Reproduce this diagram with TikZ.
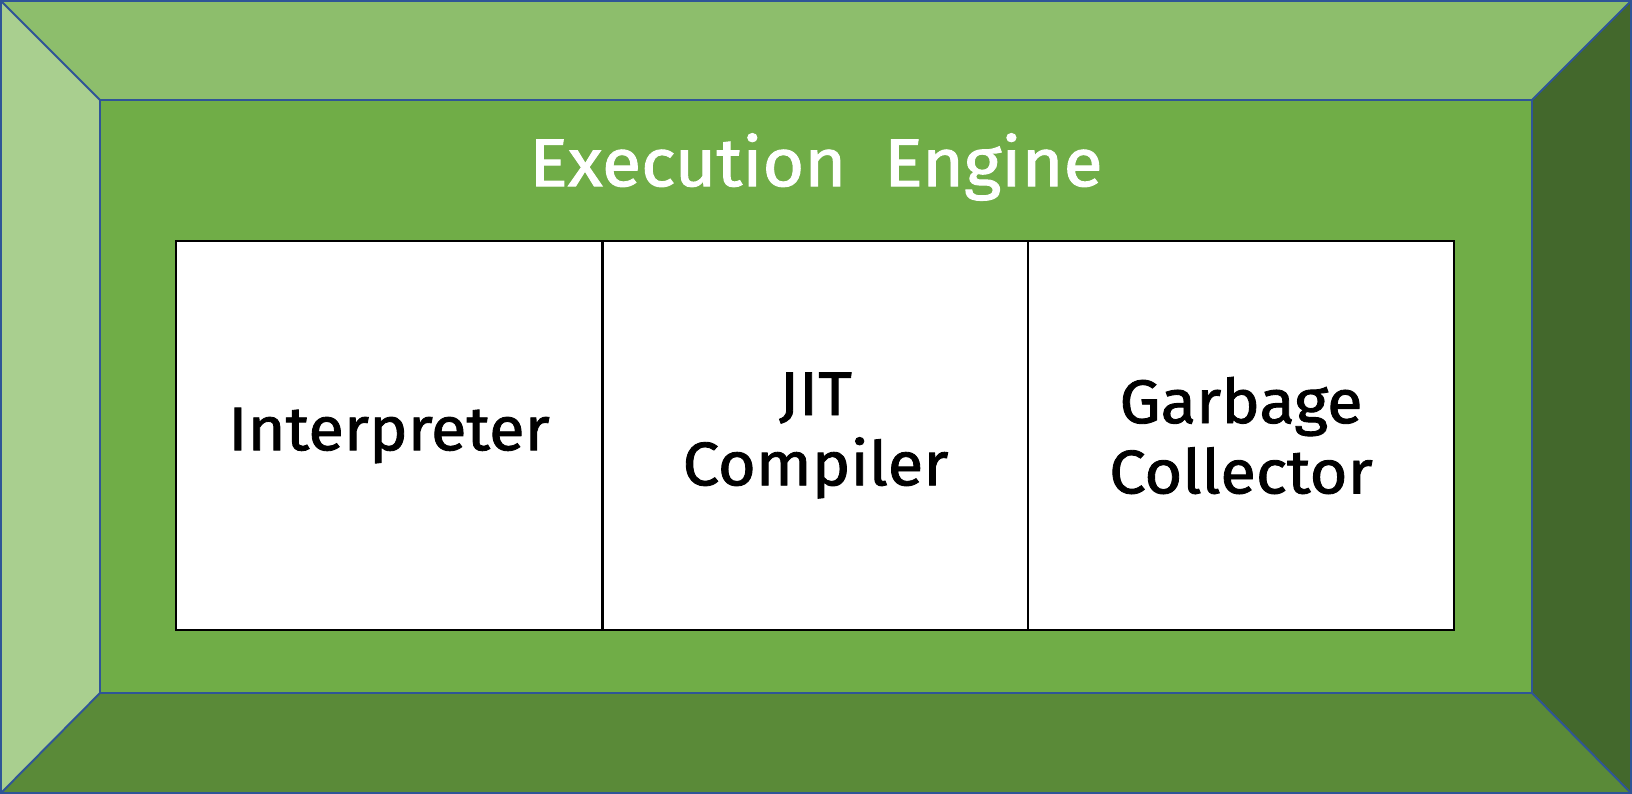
\documentclass[tikz,border=0pt]{standalone}
\usepackage{fontspec}
\setmainfont{Fira Sans}[FakeBold=1.4, FakeStretch=1.06]
\usepackage{xcolor}
\usetikzlibrary{positioning}

\definecolor{bevtop}{HTML}{8DBE6C}
\definecolor{bevleft}{HTML}{A9CF8F}
\definecolor{bevmid}{HTML}{70AD47}
\definecolor{bevbot}{HTML}{5A8A38}
\definecolor{bevright}{HTML}{43682C}
\definecolor{edgeblue}{HTML}{2F5597}

\begin{document}
\begin{tikzpicture}[x=0.02cm, y=-0.02cm,
            face/.style={draw=edgeblue, line width=1.1pt, line join=miter},
            cell/.style={draw, line width=1.1pt, fill=white, rectangle, minimum width=8.52cm, minimum height=7.78cm, align=center, inner sep=0pt, font=\fontsize{35}{40}\selectfont},
            title/.style={text=white, font=\fontsize{38.5}{42}\selectfont}]

            \useasboundingbox (0,0) rectangle (1632,794);

            % bevelled frame
            \fill[bevtop] (1,1) -- (1631,1) -- (1532,100) -- (100,100) -- cycle;
            \fill[bevleft] (1,1) -- (100,100) -- (100,693) -- (1,793) -- cycle;
            \fill[bevbot] (1,793) -- (100,693) -- (1532,693) -- (1631,793) -- cycle;
            \fill[bevright] (1631,1) -- (1631,793) -- (1532,693) -- (1532,100) -- cycle;
            \fill[bevmid] (100,100) rectangle (1532,693);
            \draw[face] (1,1) rectangle (1631,793);
            \draw[face] (100,100) rectangle (1532,693);
            \draw[face] (1,1) -- (100,100);
            \draw[face] (1631,1) -- (1532,100);
            \draw[face] (1,793) -- (100,693);
            \draw[face] (1631,793) -- (1532,693);

            \node[title] (engine) at (816,167) {Execution\ \ Engine};

            \node[cell] (interp) at (389,435.5) {Interpreter};
            \node[cell] (jit) at (815.5,435.5) {JIT\\Compiler};
            \node[cell] (gc) at (1241,435.5) {Garbage\\Collector};
        \end{tikzpicture}
\end{document}
